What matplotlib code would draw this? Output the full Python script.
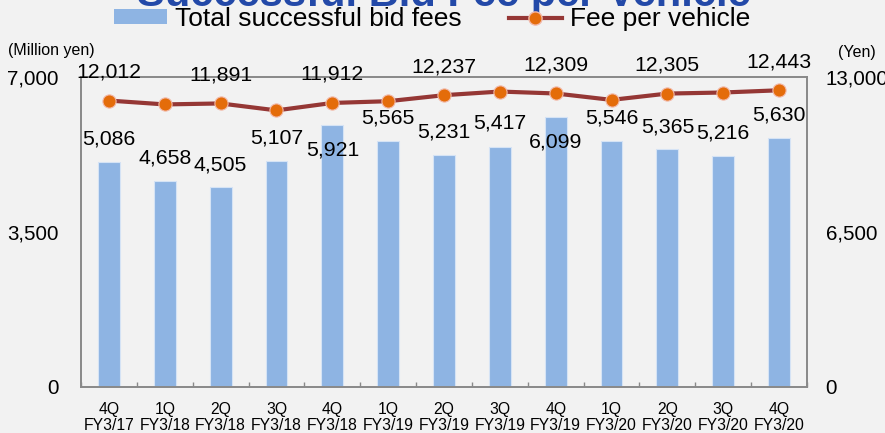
import matplotlib
matplotlib.use("Agg")
import matplotlib.pyplot as plt
from matplotlib.lines import Line2D
from matplotlib.patches import Patch
import numpy as np

plt.rcParams['font.family'] = ['Liberation Sans', 'DejaVu Sans']

quarters = ["4Q", "1Q", "2Q", "3Q", "4Q", "1Q", "2Q", "3Q", "4Q", "1Q", "2Q", "3Q", "4Q"]
fiscal_years = ["FY3/17", "FY3/18", "FY3/18", "FY3/18", "FY3/18", "FY3/19", "FY3/19",
                "FY3/19", "FY3/19", "FY3/20", "FY3/20", "FY3/20", "FY3/20"]
total_fees = [5086, 4658, 4505, 5107, 5921, 5565, 5231, 5417, 6099, 5546, 5365, 5216, 5630]
fee_per_vehicle = [12012, 11850, 11891, 11600, 11912, 11985, 12237, 12390, 12309, 12040, 12305, 12350, 12443]
fee_labelled = [True, False, True, False, True, False, True, False, True, False, True, False, True]
left_ticks = [0, 3500, 7000]
right_ticks = [0, 6500, 13000]

# label placement style (points): bar labels above top unless overlapping
bar_label_dy = [16.5, 16.5, 16.5, 16.5, -18, 16.5, 16.5, 17, -18, 16.5, 16, 16.5, 16.5]

bg = "#F2F2F2"
bar_color = "#8EB4E3"
line_color = "#953735"
marker_color = "#E46C0A"
spine_color = "#898989"

fig = plt.figure(figsize=(8.85, 4.33), dpi=100, facecolor=bg)
ax = fig.add_axes([81/885, 1-387/433, 726/885, 310/433])
ax.set_facecolor(bg)
ax2 = ax.twinx()

x = np.arange(len(total_fees))
ax.bar(x, total_fees, width=0.39, color=bar_color, edgecolor="#D5E3F5", linewidth=0.8, zorder=2)
ax.set_xlim(-0.5, len(total_fees) - 0.5)
ax.set_ylim(0, 7000)
ax.set_yticks(left_ticks)
ax.set_yticklabels([f"{v:,}" for v in left_ticks])

ax2.plot(x, fee_per_vehicle, color=line_color, linewidth=3, marker="o", markersize=9.5,
         markerfacecolor=marker_color, markeredgecolor="#F2B8A8", markeredgewidth=0.8, zorder=3)
ax2.set_ylim(0, 13000)
ax2.set_yticks(right_ticks)
ax2.set_yticklabels([f"{v:,}" for v in right_ticks])

for xi, v, dy in zip(x, total_fees, bar_label_dy):
    ax.annotate(f"{v:,}", (xi, v), xytext=(0, dy), textcoords="offset points",
                ha="center", va="center", fontsize=15.3, color="black", zorder=5)

for xi, v, show in zip(x, fee_per_vehicle, fee_labelled):
    if show:
        ax2.annotate(f"{v:,}", (xi, v), xytext=(0, 20.5), textcoords="offset points",
                     ha="center", va="center", fontsize=15.3, color="black", zorder=5)

ax.set_xticks(x)
ax.set_xticklabels([f"{q}\n{fy}" for q, fy in zip(quarters, fiscal_years)], fontsize=11.3,
                   linespacing=1.05)
ax.set_xticks(np.arange(len(total_fees) + 1) - 0.5, minor=True)
ax.tick_params(axis="x", which="major", length=0, pad=11)
ax.tick_params(axis="x", which="minor", direction="in", length=3.5, color=spine_color, width=1)
ax.tick_params(axis="y", length=0, pad=16, labelsize=14.8)
ax2.tick_params(axis="y", length=0, pad=13.5, labelsize=14.8)

for a in (ax, ax2):
    for s in a.spines.values():
        s.set_color(spine_color)
        s.set_linewidth(1.2)

fig.text(8/885, 1-50/433, "(Million yen)", fontsize=11.5, ha="left", va="center")
fig.text(857/885, 1-53/433, "(Yen)", fontsize=11.5, ha="center", va="center")

fig.text(444/885, 1-6/433, "Successful Bid Fee per Vehicle", fontsize=30, fontweight="bold",
         color="#2349A8", ha="center", va="baseline")

handles = [Patch(facecolor=bar_color, edgecolor="none"),
           Line2D([0], [0], color=line_color, linewidth=3, marker="o", markersize=9.5,
                  markerfacecolor=marker_color, markeredgecolor="#F2B8A8")]
fig.legend(handles, ["Total successful bid fees", "Fee per vehicle"], loc="center",
           bbox_to_anchor=(432/885, 1-19/433), ncol=2, frameon=False, fontsize=19,
           handlelength=2.0, handleheight=0.5, handletextpad=0.3, columnspacing=1.8,
           borderpad=0, borderaxespad=0)

fig.savefig("out.png", dpi=100, facecolor=bg)
